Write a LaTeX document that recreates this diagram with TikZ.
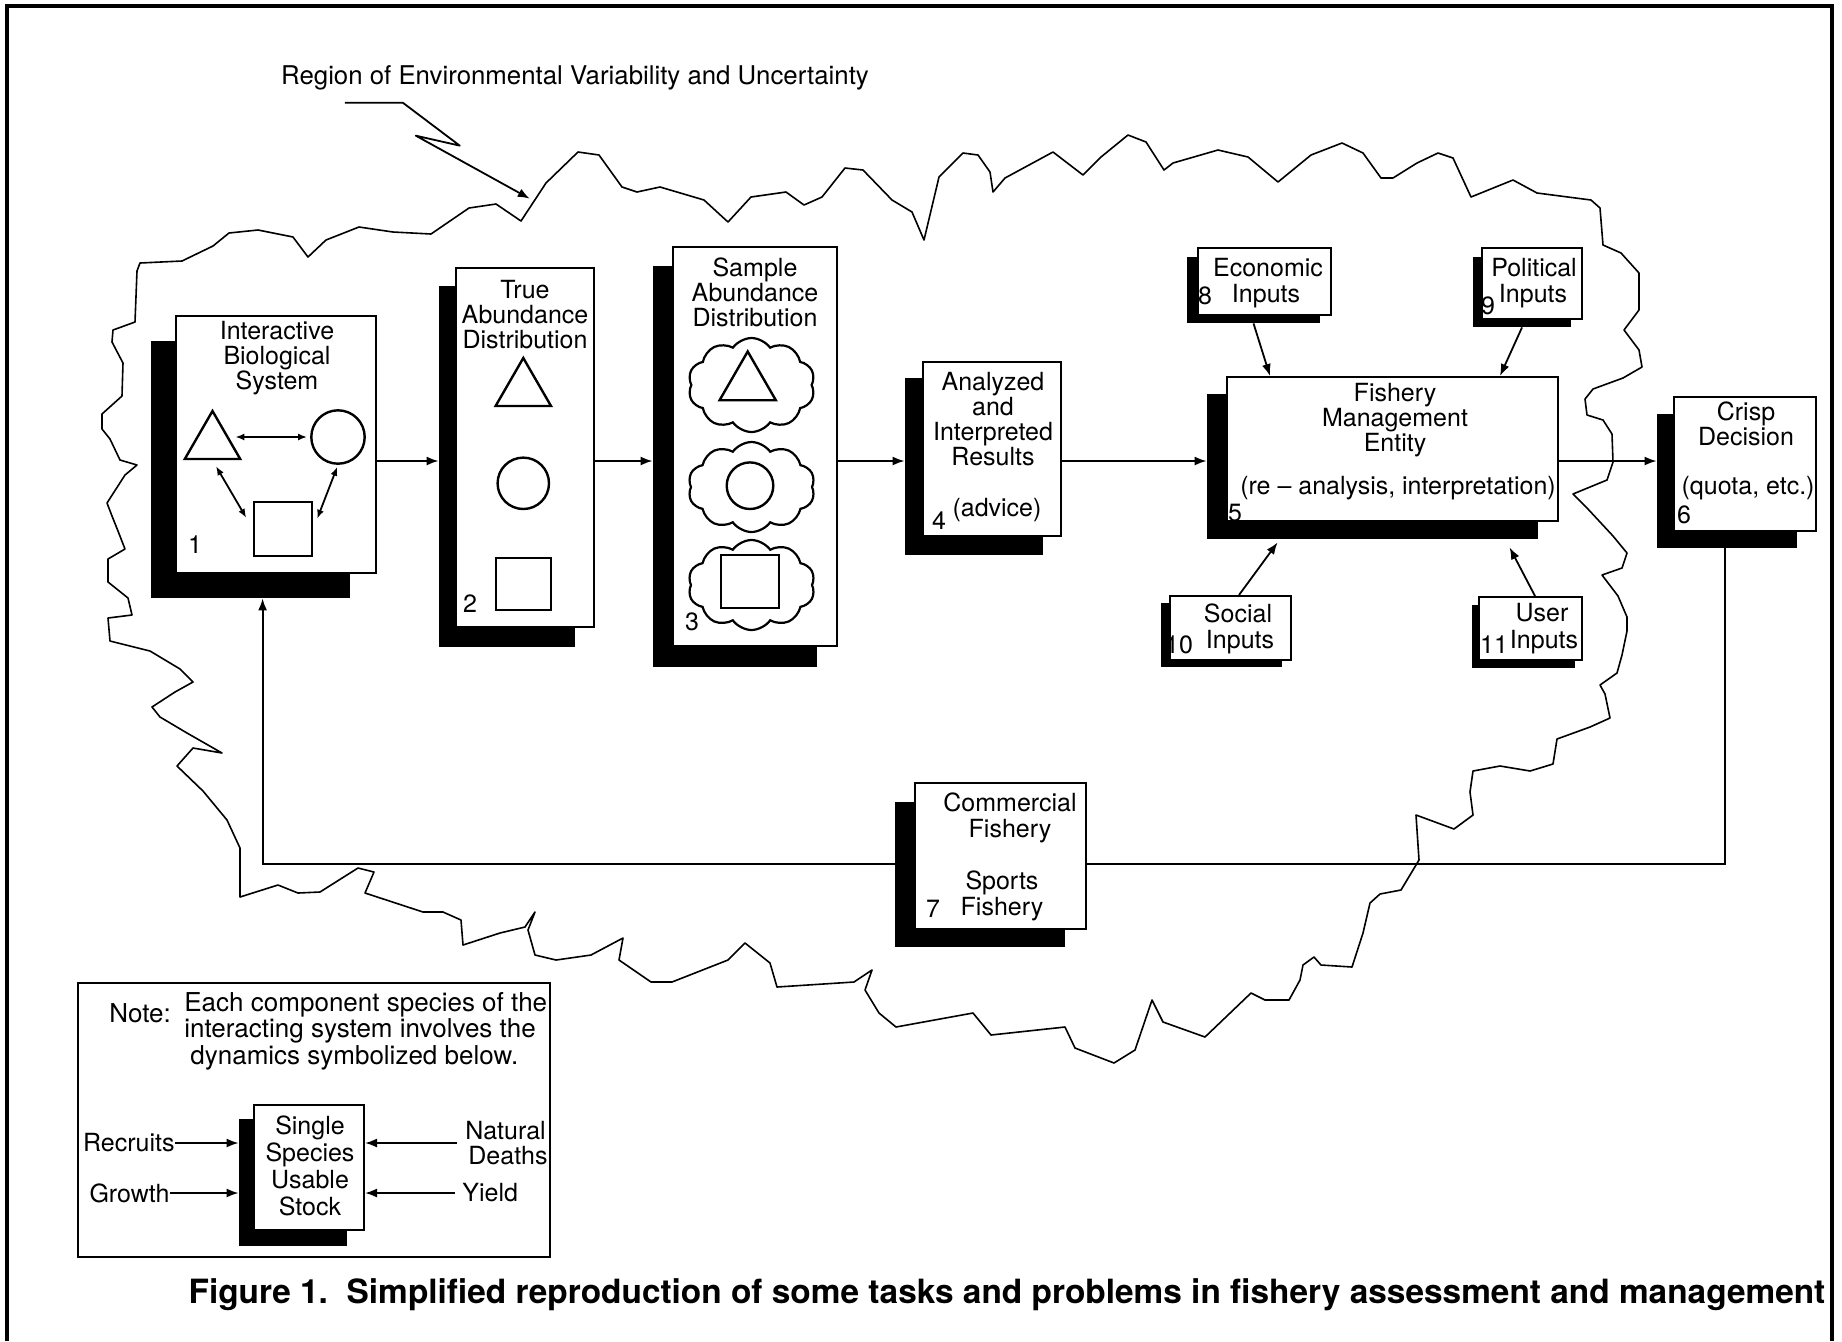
\documentclass[tikz,border=0pt]{standalone}
\usepackage{fontspec}
\setmainfont{TeX Gyre Heros}
\usetikzlibrary{arrows.meta, calc, fit, shapes.geometric, shapes.symbols}
\tikzset{
	panel/.style={
		draw,
		fill=white,
		line width=1pt,
		inner sep=0pt
	},
	shadowbox/.style={
		fill=black,
		inner sep=0pt
	},
	lbl/.style={
		font=\fontsize{12.5}{12.5}\selectfont,
		align=center,
		inner sep=0pt
	},
	num/.style={font=\fontsize{12.5}{12.5}\selectfont, inner sep=0pt},
	glyph/.style={draw, fill=white, line width=1.2pt, inner sep=0pt},
	puff/.style={draw, cloud, cloud puffs=10, cloud puff arc=110, line width=1.1pt, inner sep=0pt}
}

\begin{document}
\begin{tikzpicture}[x=0.5pt, y=-0.5pt]
	\tikzset{conn/.style={-{Latex[length=6pt,width=4.5pt]}, line width=0.9pt}}
	\tikzset{link/.style={line width=0.9pt}}
	\tikzset{both/.style={{Latex[length=4.5pt,width=3.5pt]}-{Latex[length=4.5pt,width=3.5pt]}, line width=0.9pt}}
	
	\useasboundingbox (0,0) rectangle (1842,1341);
	\draw[line width=2.2pt] (7,1341) -- (7,6) -- (1832,6) -- (1832,1341);
	
	% region of environmental variability
	\draw[line width=0.8pt, line join=round] (140,263) -- (182,261) -- (213,246) -- (229,233) -- (258,230) -- (293,237) -- (308,257) -- (326,240) -- (359,227) -- (393,232) -- (431,234) -- (469,208) -- (496,204) -- (521,221) -- (546,183) -- (578,152) -- (599,155) -- (622,187) -- (637,192) -- (660,187) -- (704,200) -- (728,222) -- (751,197) -- (786,192) -- (804,205) -- (822,197) -- (845,168) -- (863,170) -- (892,200) -- (912,212) -- (924,240) -- (939,177) -- (963,153) -- (978,155) -- (990,172) -- (993,192) -- (1005,178) -- (1053,152) -- (1083,175) -- (1101,157) -- (1128,135) -- (1146,142) -- (1164,170) -- (1173,163) -- (1218,150) -- (1248,157) -- (1278,182) -- (1311,155) -- (1342,143) -- (1363,153) -- (1381,178) -- (1393,178) -- (1417,163) -- (1438,153) -- (1453,158) -- (1471,197) -- (1513,180) -- (1537,193) -- (1591,200) -- (1600,208) -- (1603,245) -- (1621,253) -- (1639,273) -- (1639,310) -- (1624,330) -- (1639,350) -- (1642,367) -- (1623,378) -- (1593,389) -- (1585,399) -- (1587,415) -- (1603,420) -- (1612,434) -- (1613,462) -- (1607,480) -- (1573,494) -- (1587,508) -- (1613,536) -- (1627,553) -- (1622,568) -- (1602,575) -- (1618,596) -- (1627,617) -- (1627,631) -- (1622,655) -- (1617,673) -- (1600,685) -- (1605,694) -- (1610,718) -- (1590,727) -- (1557,739) -- (1553,764) -- (1530,771) -- (1500,766) -- (1473,771) -- (1470,792) -- (1473,815) -- (1454,829) -- (1416,815) -- (1419,860) -- (1401,890) -- (1380,894) -- (1370,903) -- (1363,933) -- (1352,967) -- (1321,965) -- (1314,957) -- (1303,965) -- (1300,980) -- (1289,1000) -- (1265,1000) -- (1251,993) -- (1205,1037) -- (1163,1022) -- (1152,1000) -- (1135,1050) -- (1114,1063) -- (1075,1048) -- (1065,1027) -- (991,1035) -- (973,1013) -- (896,1027) -- (879,1013) -- (865,990) -- (872,970) -- (854,982) -- (777,987) -- (770,963) -- (745,943) -- (728,960) -- (672,982) -- (651,982) -- (619,960) -- (623,938) -- (591,955) -- (556,960) -- (535,955) -- (528,930) -- (535,912) -- (525,927) -- (500,933) -- (463,945) -- (461,920) -- (443,912) -- (423,912) -- (365,893) -- (374,872) -- (358,868) -- (320,892) -- (298,893) -- (278,885) -- (240,897) -- (240,848) -- (227,820) -- (203,791) -- (177,766) -- (193,748) -- (222,753) -- (187,733) -- (160,717) -- (152,707) -- (175,692) -- (193,682) -- (180,669) -- (150,651) -- (110,641) -- (108,618) -- (132,615) -- (128,598) -- (108,582) -- (108,559) -- (125,549) -- (118,531) -- (112,516) -- (107,503) -- (125,475) -- (137,465) -- (120,460) -- (110,439) -- (102,429) -- (102,414) -- (122,396) -- (123,363) -- (112,342) -- (113,330) -- (135,322) -- (137,271) -- cycle;
	
	\node(region) at (575,78) [lbl, font=\fontsize{12.9}{12.9}\selectfont] {Region of Environmental Variability and Uncertainty};
	\draw[conn, line join=round] ($(region.south west)+(64,12)$) -- ++(58,0) -- ++(57,43) -- ++(-44,-10) -- ++(114,63);
	
	\node(b1sh) [shadowbox, fit={(151,341) (350,598)}] {};
	\node(b2sh) [shadowbox, fit={(439,286) (575,647)}] {};
	\node(b3sh) [shadowbox, fit={(653,266) (817,667)}] {};
	\node(b4sh) [shadowbox, fit={(905,378) (1043,555)}] {};
	\node(b5sh) [shadowbox, fit={(1207,394) (1538,539)}] {};
	\node(b6sh) [shadowbox, fit={(1657,414) (1797,548)}] {};
	\node(b7sh) [shadowbox, fit={(895,802) (1065,947)}] {};
	\node(b8sh) [shadowbox, fit={(1187,257) (1320,323)}] {};
	\node(b9sh) [shadowbox, fit={(1473,257) (1571,327)}] {};
	\node(b10sh) [shadowbox, fit={(1161,603) (1282,667)}] {};
	\node(b11sh) [shadowbox, fit={(1472,605) (1575,668)}] {};
	
	\node(b1) [panel, fit={(176,316) (376,573)}] {};
	\node(b2) [panel, fit={(456,268) (594,627)}] {};
	\node(b3) [panel, fit={(673,247) (837,646)}] {};
	\node(b4) [panel, fit={(923,362) (1061,536)}] {};
	\node(b5) [panel, fit={(1227,377) (1558,521)}] {};
	\node(b6) [panel, fit={(1674,397) (1816,531)}] {};
	\node(b7) [panel, fit={(915,783) (1086,929)}] {};
	\node(b8) [panel, fit={(1198,248) (1331,315)}] {};
	\node(b9) [panel, fit={(1482,248) (1582,319)}] {};
	\node(b10) [panel, fit={(1170,596) (1291,660)}] {};
	\node(b11) [panel, fit={(1479,597) (1582,660)}] {};
	
	\node(t1) at (277,358) [lbl] {Interactive\\Biological\\System};
	\node(n1) at (195,545) [num] {1};
	\node(tri1) at (212.5,443) [glyph, regular polygon, regular polygon sides=3, minimum size=32pt] {};
	\node(circ1) at (338,437) [glyph, circle, minimum size=26.7pt] {};
	\node(sq1) [glyph, fit={(254,502) (312,556)}] {};
	\draw[both, shorten <=1.5pt, shorten >=1.5pt] (tri1.east |- circ1) -- (circ1.west);
	\draw[both, shorten <=3.5pt, shorten >=6.5pt] (tri1.south) -- (sq1.west);
	\draw[both, shorten <=1pt, shorten >=5.5pt] (circ1.south) -- (sq1.east);
	
	\node(t2) at (525,315) [lbl] {True\\Abundance\\Distribution};
	\node(n2) at (470,604) [num] {2};
	\node(tri2) at (523.3,390) [glyph, regular polygon, regular polygon sides=3, minimum size=32pt] {};
	\node(circ2) at (523.3,483.3) [glyph, circle, minimum size=25.7pt] {};
	\node(sq2) [glyph, fit={(496,558) (551,610)}] {};
	
	\node(t3) at (755,292) [lbl] {Sample\\Abundance\\Distribution};
	\node(n3) at (692,622) [num] {3};
	\node(cl1) at (751.5,385) [puff, minimum width=63.5pt, minimum height=47pt] {};
	\node(cl2) at (751.5,487) [puff, minimum width=63.5pt, minimum height=45pt] {};
	\node(cl3) at (751.5,585) [puff, minimum width=63.5pt, minimum height=45pt] {};
	\node(tri3) at (747.7,384) [glyph, regular polygon, regular polygon sides=3, minimum size=32.5pt] {};
	\node(circ3) at (750,485.7) [glyph, circle, minimum size=23.3pt] {};
	\node(sq3) [glyph, fit={(721,555) (779,608)}] {};
	
	\node(t4) at (993,419) [lbl] {Analyzed\\and\\Interpreted\\Results};
	\node(t4b) at (997,510) [lbl] {(advice)};
	\node(n4) at (939,521) [num] {4};
	
	\node(t5) at (1395,420) [lbl] {Fishery\\Management\\Entity};
	\node(t5b) at (1398,488) [lbl] {(re -- analysis, interpretation)};
	\node(n5) at (1235,513) [num] {5};
	
	\node(t6) at (1746,424) [lbl] {Crisp\\Decision};
	\node(t6b) at (1748,488) [lbl] {(quota, etc.)};
	\node(n6) at (1684,515) [num] {6};
	
	\node(t7) at (1010,818) [lbl, font=\fontsize{12.5}{13}\selectfont] {Commercial\\Fishery};
	\node(t7b) at (1002,896) [lbl, font=\fontsize{12.5}{13}\selectfont] {Sports\\Fishery};
	\node(n7) at (933,909) [num] {7};
	
	\node(t8) at (1268,268) [lbl] {Economic};
	\node(t8b) at (1266,296) [lbl] {Inputs};
	\node(n8) at (1205,296) [num] {8};
	\node(t9) at (1534,268) [lbl] {Political};
	\node(t9b) at (1533,296) [lbl] {Inputs};
	\node(n9) at (1488,306) [num] {9};
	\node(t10) at (1238,613) [lbl] {Social};
	\node(t10b) at (1240,642) [lbl] {Inputs};
	\node(n10) at (1179,645) [num] {10};
	\node(t11) at (1542,613) [lbl] {User};
	\node(t11b) at (1544,642) [lbl] {Inputs};
	\node(n11) at (1494,645) [num] {11};
	
	\coordinate(flow) at (0,461);
	\draw[conn] (b1.east |- flow) -- (b2sh.west |- flow);
	\draw[conn] (b2.east |- flow) -- (b3sh.west |- flow);
	\draw[conn] (b3.east |- flow) -- (b4sh.west |- flow);
	\draw[conn] (b4.east |- flow) -- (b5sh.west |- flow);
	\draw[conn] (b5.east |- flow) -- (b6sh.west |- flow);
	
	\draw[conn] (b8sh.south) -- ($(b5.north west)+(44,0)$);
	\draw[conn] (b9sh.south) -- ($(b5.north west)+(274,0)$);
	\draw[conn] ($(b10.north west)+(70,0)$) -- ($(b5sh.south west)+(71,3)$);
	\draw[conn] ($(b11.north west)+(57,0)$) -- ($(b5sh.south west)+(303,8)$);
	
	\coordinate(back) at (0,864);
	\draw[link] ($(b6sh.south west)+(68,0)$) |- (b7.east |- back);
	\draw[conn] (b7sh.west |- back) -| ($(b1sh.south west)+(112,0)$);
	
	
	\node(note) [draw, line width=1pt, inner sep=0pt, fit={(78,983) (550,1257)}] {};
	\node(note1) at (109,1013) [lbl, anchor=west, font=\fontsize{13}{13}\selectfont] {Note:};
	\node(note2) at (184,1031) [lbl, anchor=west, align=left, font=\fontsize{13}{9.7}\selectfont] {Each component species of the\\interacting system involves the\\\hspace{3pt}dynamics symbolized below.};
	
	\node(stocksh) [shadowbox, fit={(239,1119) (347,1246)}] {};
	\node(stock) [panel, fit={(254,1105) (364,1230)}] {};
	\node(t12) at (310,1166) [lbl, font=\fontsize{12.5}{13.4}\selectfont] {Single\\Species\\Usable\\Stock};
	
	\node(rec) at (175,1143) [lbl, anchor=east] {Recruits};
	\node(gro) at (170,1193) [lbl, anchor=east] {Growth};
	\node(nat) at (465,1143) [lbl, anchor=west, align=left] {Natural\\\hspace{1.5pt}Deaths};
	\node(yie) at (462,1193) [lbl, anchor=west] {Yield};
	\draw[conn] (rec.east) -- (rec.east -| stocksh.west);
	\draw[conn] (gro.east) -- (gro.east -| stocksh.west);
	\draw[conn] ([xshift=-4pt]nat.west) -- (nat.west -| stock.east);
	\draw[conn] ([xshift=-3.5pt]yie.west) -- (yie.west -| stock.east);
	
	\node(caption) at (1007,1295) [inner sep=0pt, font=\fontsize{16.7}{16.7}\selectfont\bfseries] {Figure 1.\ \ Simplified reproduction of some tasks and problems in fishery assessment and management};
	
\end{tikzpicture}
\end{document}
